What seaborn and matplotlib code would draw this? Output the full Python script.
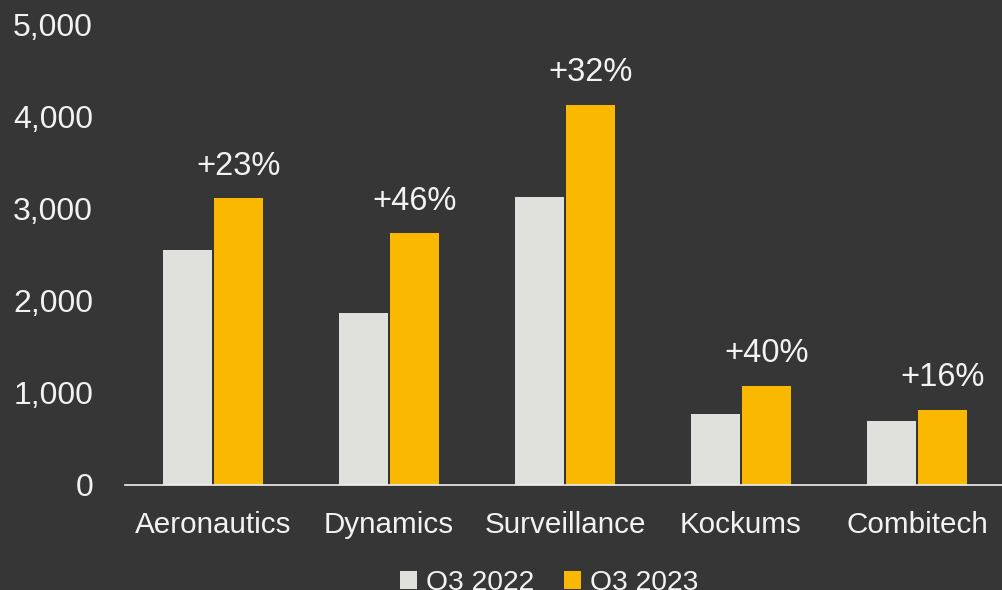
import matplotlib
matplotlib.use("Agg")
import matplotlib.pyplot as plt
import seaborn as sns
import pandas as pd
from matplotlib.patches import Patch

categories = ["Aeronautics", "Dynamics", "Surveillance", "Kockums", "Combitech"]
series_names = ["Q3 2022", "Q3 2023"]
q3_2022 = [2550, 1865, 3135, 770, 695]
q3_2023 = [3115, 2735, 4135, 1075, 815]
growth_labels = ["+23%", "+46%", "+32%", "+40%", "+16%"]
y_ticks = [0, 1000, 2000, 3000, 4000, 5000]

bg = "#363636"
colors = ["#e0e0dc", "#fbb800"]
text_color = "#f2f2f2"

sns.set_theme(style="white")
plt.rcParams["font.family"] = ["Liberation Sans", "DejaVu Sans"]

df = pd.DataFrame({
    "category": categories * 2,
    "series": [series_names[0]] * len(categories) + [series_names[1]] * len(categories),
    "value": q3_2022 + q3_2023,
})

fig = plt.figure(figsize=(10.02, 5.90), dpi=100, facecolor=bg)
ax = fig.add_axes([125 / 1002, 105 / 590, 880 / 1002, 460 / 590])
ax.set_facecolor(bg)

sns.barplot(data=df, x="category", y="value", hue="series", order=categories,
            hue_order=series_names, palette=colors, width=0.579, gap=0.04,
            saturation=1, ax=ax, legend=False, edgecolor="none")

ax.set_ylim(0, 5000)
ax.set_xlim(-0.5, 4.5)
ax.set_yticks(y_ticks)
ax.set_yticklabels([f"{v:,}" for v in y_ticks])
ax.set_xlabel("")
ax.set_ylabel("")
for s in ["top", "right", "left"]:
    ax.spines[s].set_visible(False)
ax.spines["bottom"].set_color("#f0f0f0")
ax.spines["bottom"].set_linewidth(1.2)
ax.tick_params(axis="y", length=0, pad=23, labelsize=23, labelcolor=text_color)
ax.tick_params(axis="x", length=0, pad=19, labelsize=21.3, labelcolor=text_color)

# growth labels above the Q3 2023 bars
bars23 = ax.containers[1]
for bar, lab in zip(bars23, growth_labels):
    ax.annotate(lab, (bar.get_x() + bar.get_width() / 2, bar.get_height()),
                xytext=(0, 12), textcoords="offset points", ha="center", va="bottom",
                fontsize=23.5, color=text_color)

handles = [Patch(facecolor=c, edgecolor="none") for c in colors]
fig.legend(handles, series_names, loc="center", bbox_to_anchor=(549 / 1002, 1 - 583 / 590),
           ncol=2, frameon=False, fontsize=20.3, labelcolor=text_color,
           handlelength=0.6, handleheight=0.6, handletextpad=0.32, columnspacing=1.07)

fig.savefig("out.png", dpi=100, facecolor=bg)
